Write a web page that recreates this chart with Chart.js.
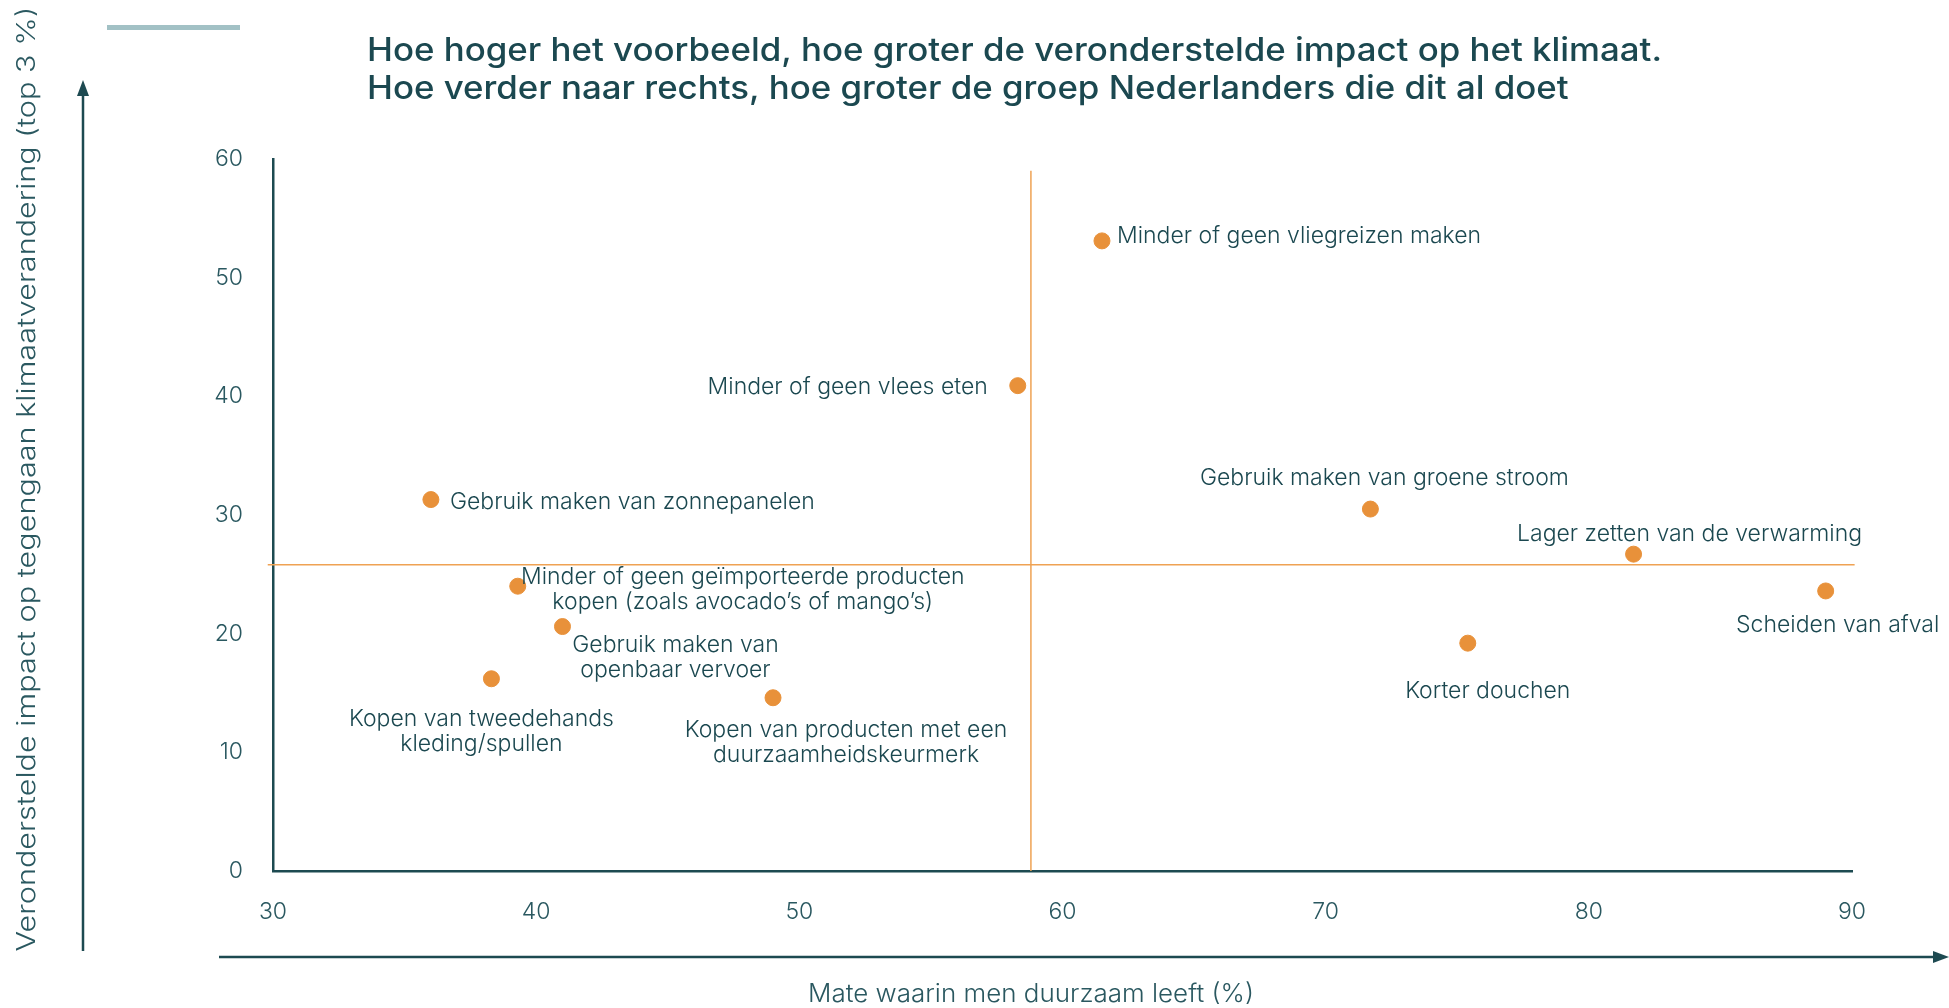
<!DOCTYPE html>
<html>
<head>
<meta charset="utf-8">
<script src="https://cdn.jsdelivr.net/npm/chart.js@4.4.1/dist/chart.umd.min.js"></script>
<style>
html,body{margin:0;padding:0;background:#fff;}
#wrap{width:1949px;height:1008px;position:relative;}
</style>
</head>
<body>
<div id="wrap"><canvas id="c" width="1949" height="1008"></canvas></div>
<script>
// ---- data ----
const categories = [
  "Minder of geen vliegreizen maken",
  "Minder of geen vlees eten",
  "Gebruik maken van zonnepanelen",
  "Gebruik maken van groene stroom",
  "Lager zetten van de verwarming",
  "Scheiden van afval",
  "Minder of geen geïmporteerde producten\nkopen (zoals avocado’s of mango’s)",
  "Gebruik maken van\nopenbaar vervoer",
  "Kopen van tweedehands\nkleding/spullen",
  "Kopen van producten met een\nduurzaamheidskeurmerk",
  "Korter douchen"
];
const xValues = [61.5, 58.3, 36.0, 71.7, 81.7, 89.0, 39.3, 41.0, 38.3, 49.0, 75.4];
const yValues = [53.1, 40.9, 31.3, 30.5, 26.7, 23.6, 24.0, 20.6, 16.2, 14.6, 19.2];
const xMeanLine = [58.8, 58.8];
const xMeanLineY = [0, 59];
const yMeanLine = [25.8, 25.8];
const yMeanLineX = [29.8, 90.1];
const xTicks = [30, 40, 50, 60, 70, 80, 90];
const yTicks = [0, 10, 20, 30, 40, 50, 60];
const titleLines = [
  "Hoe hoger het voorbeeld, hoe groter de veronderstelde impact op het klimaat.",
  "Hoe verder naar rechts, hoe groter de groep Nederlanders die dit al doet"
];
const xTitle = "Mate waarin men duurzaam leeft (%)";
const yTitle = "Veronderstelde impact op tegengaan klimaatverandering (top 3 %)";

// ---- label layout (pixel offsets from point, alignment) ----
const labelLayout = [
  {dx: 15, dy: -5, align: "left"},
  {dx: -30, dy: 1, align: "right"},
  {dx: 19, dy: 3, align: "left"},
  {dx: 14, dy: -31, align: "center"},
  {dx: 56, dy: -20, align: "center"},
  {dx: 12, dy: 34, align: "center"},
  {dx: 225, dy: -9, align: "center"},
  {dx: 113, dy: 19, align: "center"},
  {dx: -10, dy: 40, align: "center"},
  {dx: 73, dy: 32, align: "center"},
  {dx: 20, dy: 48, align: "center"}
];

const TEXT = "#1b4850";
const AXIS = "#1d4a51";
const ORANGE = "#e8913a";
const LINE_ORANGE = "#efa253";
const FONT = "Inter, Lato, 'Open Sans', sans-serif";

// draw text stretched horizontally by factor s about the anchor x
function stretchText(ctx, text, x, y, s) {
  ctx.save();
  ctx.translate(x, y);
  ctx.scale(s, 1);
  ctx.fillText(text, 0, 0);
  ctx.restore();
}

const decor = {
  id: "decor",
  afterDatasetsDraw(chart) {
    const ctx = chart.ctx;
    ctx.save();
    // point labels
    const meta = chart.getDatasetMeta(0);
    ctx.fillStyle = TEXT;
    ctx.font = "300 23px " + FONT;
    ctx.textBaseline = "middle";
    meta.data.forEach((pt, i) => {
      const lay = labelLayout[i];
      const lines = categories[i].split("\n");
      ctx.textAlign = lay.align;
      lines.forEach((ln, j) => {
        ctx.fillText(ln, pt.x + lay.dx, pt.y + lay.dy + j * 25);
      });
    });
    // top decorative bar
    ctx.fillStyle = "#a2c1c5";
    ctx.fillRect(107, 25, 133, 5);
    // title
    ctx.fillStyle = TEXT;
    ctx.font = "500 32px " + FONT;
    ctx.textAlign = "left";
    ctx.textBaseline = "middle";
    const ts = 1295 / ctx.measureText(titleLines[0]).width;
    titleLines.forEach((t, i) => stretchText(ctx, t, 367, 51 + i * 38, ts));
    // y arrow
    ctx.strokeStyle = AXIS;
    ctx.fillStyle = AXIS;
    ctx.lineWidth = 2.5;
    ctx.beginPath(); ctx.moveTo(83, 951); ctx.lineTo(83, 92); ctx.stroke();
    ctx.beginPath(); ctx.moveTo(83, 80); ctx.lineTo(77, 96); ctx.lineTo(89, 96); ctx.closePath(); ctx.fill();
    // x arrow
    ctx.beginPath(); ctx.moveTo(219, 957); ctx.lineTo(1938, 957); ctx.stroke();
    ctx.beginPath(); ctx.moveTo(1949, 957); ctx.lineTo(1933, 951); ctx.lineTo(1933, 963); ctx.closePath(); ctx.fill();
    // axis titles
    ctx.fillStyle = "#2a5860";
    ctx.font = "300 25px " + FONT;
    ctx.textAlign = "center";
    const xs = 446 / ctx.measureText(xTitle).width;
    stretchText(ctx, xTitle, 1031, 994, xs);
    const ys = 945 / ctx.measureText(yTitle).width;
    ctx.save();
    ctx.translate(27, 479);
    ctx.rotate(-Math.PI / 2);
    stretchText(ctx, yTitle, 0, 0, ys);
    ctx.restore();
    ctx.restore();
  }
};

const pts = xValues.map((x, i) => ({x: x, y: yValues[i]}));
const vLine = xMeanLine.map((x, i) => ({x: x, y: xMeanLineY[i]}));
const hLine = yMeanLine.map((y, i) => ({x: yMeanLineX[i], y: y}));

new Chart(document.getElementById("c"), {
  type: "scatter",
  data: {
    datasets: [
      {data: pts, backgroundColor: ORANGE, borderColor: ORANGE, pointRadius: 8, pointHoverRadius: 8, order: 0},
      {data: vLine, showLine: true, borderColor: LINE_ORANGE, borderWidth: 1.5, pointRadius: 0, clip: false, order: 2},
      {data: hLine, showLine: true, borderColor: LINE_ORANGE, borderWidth: 1.5, pointRadius: 0, clip: false, order: 2}
    ]
  },
  options: {
    responsive: false,
    animation: false,
    events: [],
    layout: {padding: {left: 0, right: 97, top: 159, bottom: 0}},
    plugins: {legend: {display: false}, tooltip: {enabled: false}},
    scales: {
      x: {
        type: "linear", min: 30, max: 90,
        afterBuildTicks: (s) => { s.ticks = xTicks.map(v => ({value: v})); },
        afterFit: (s) => { s.height = 137; },
        grid: {display: false, drawTicks: false},
        border: {display: true, color: AXIS, width: 2.5},
        ticks: {color: "#2a5860", font: {family: FONT, size: 23, weight: 300}, padding: 27, maxRotation: 0}
      },
      y: {
        type: "linear", min: 0, max: 60,
        afterBuildTicks: (s) => { s.ticks = yTicks.map(v => ({value: v})); },
        afterFit: (s) => { s.width = 273; },
        grid: {display: false, drawTicks: false},
        border: {display: true, color: AXIS, width: 2.5},
        ticks: {color: "#2a5860", font: {family: FONT, size: 23, weight: 300}, padding: 30}
      }
    }
  },
  plugins: [decor]
});
</script>
</body>
</html>
